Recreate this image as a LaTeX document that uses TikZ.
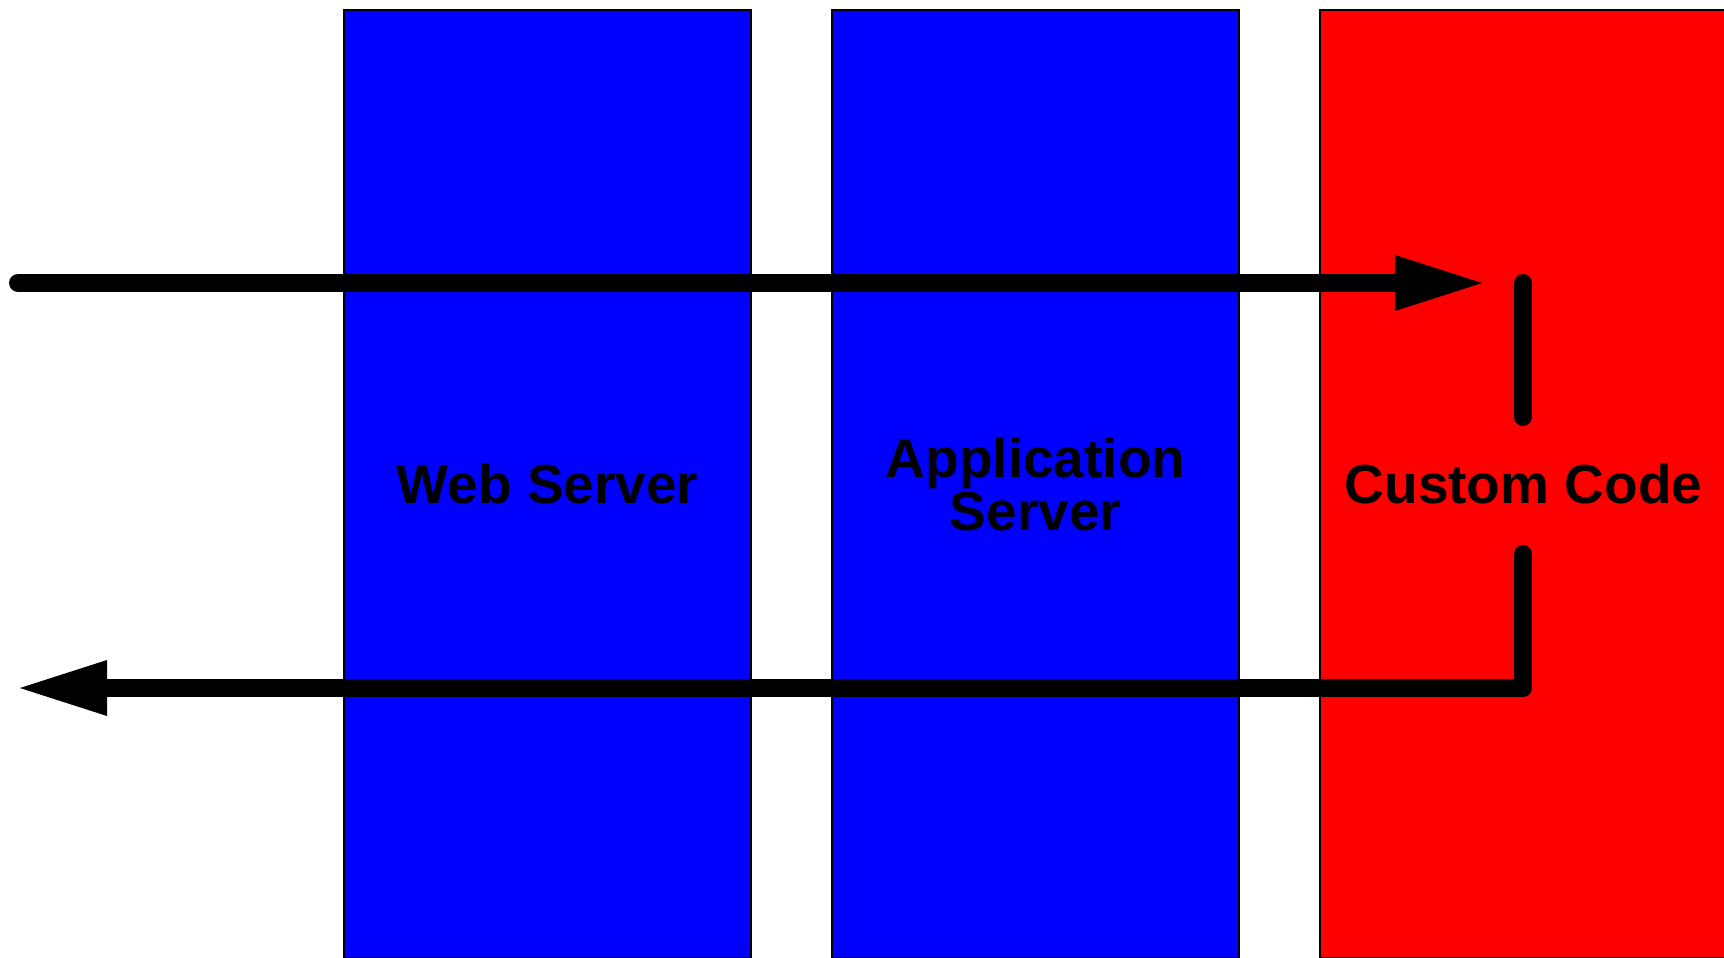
\documentclass[tikz,border=0pt]{standalone}
\usepackage{fontspec}
\setmainfont{Liberation Sans}
\usetikzlibrary{arrows.meta}
\definecolor{tierblue}{HTML}{0000FF}
\definecolor{tierred}{HTML}{FF0000}
\tikzset{
  tier/.style={draw=black, line width=1pt, minimum width=203.5pt, minimum height=474pt,
    inner sep=0pt, font=\fontsize{27.5}{26.5}\selectfont\bfseries, align=center, text=black},
  flow/.style={line width=9pt, line cap=round, line join=round},
  flowtip/.style={-{Triangle[length=46pt,width=25pt]}}
}
\begin{document}
\begin{tikzpicture}[x=0.5pt, y=-0.5pt]
  \useasboundingbox (0,0) rectangle (1724,958);
  \clip (0,0) rectangle (1724,958);
  \fill[white] (0,0) rectangle (1724,958);

  % three tiers
  \node[tier, fill=tierblue] (web) at (547.5,484) {Web Server};
  \node[tier, fill=tierblue] (app) at (1035.5,484) {Application\\Server};
  \node[tier, fill=tierred]  (custom) at (1523.5,484) {Custom Code};

  % request path
  \coordinate (reqstart) at (18,283);
  \coordinate (reqend) at (1487,283);
  \coordinate (downtop) at (1523,283);
  \coordinate (downbot) at (1523,417);
  \coordinate (uptop) at (1523,554);
  \coordinate (corner) at (1523,688);
  \coordinate (respend) at (15,688);

  \draw[flow, flowtip] (reqstart) -- (reqend);
  \draw[flow] (downtop) -- (downbot);
  \draw[flow, flowtip] (uptop) -- (corner) -- (respend);
\end{tikzpicture}
\end{document}
